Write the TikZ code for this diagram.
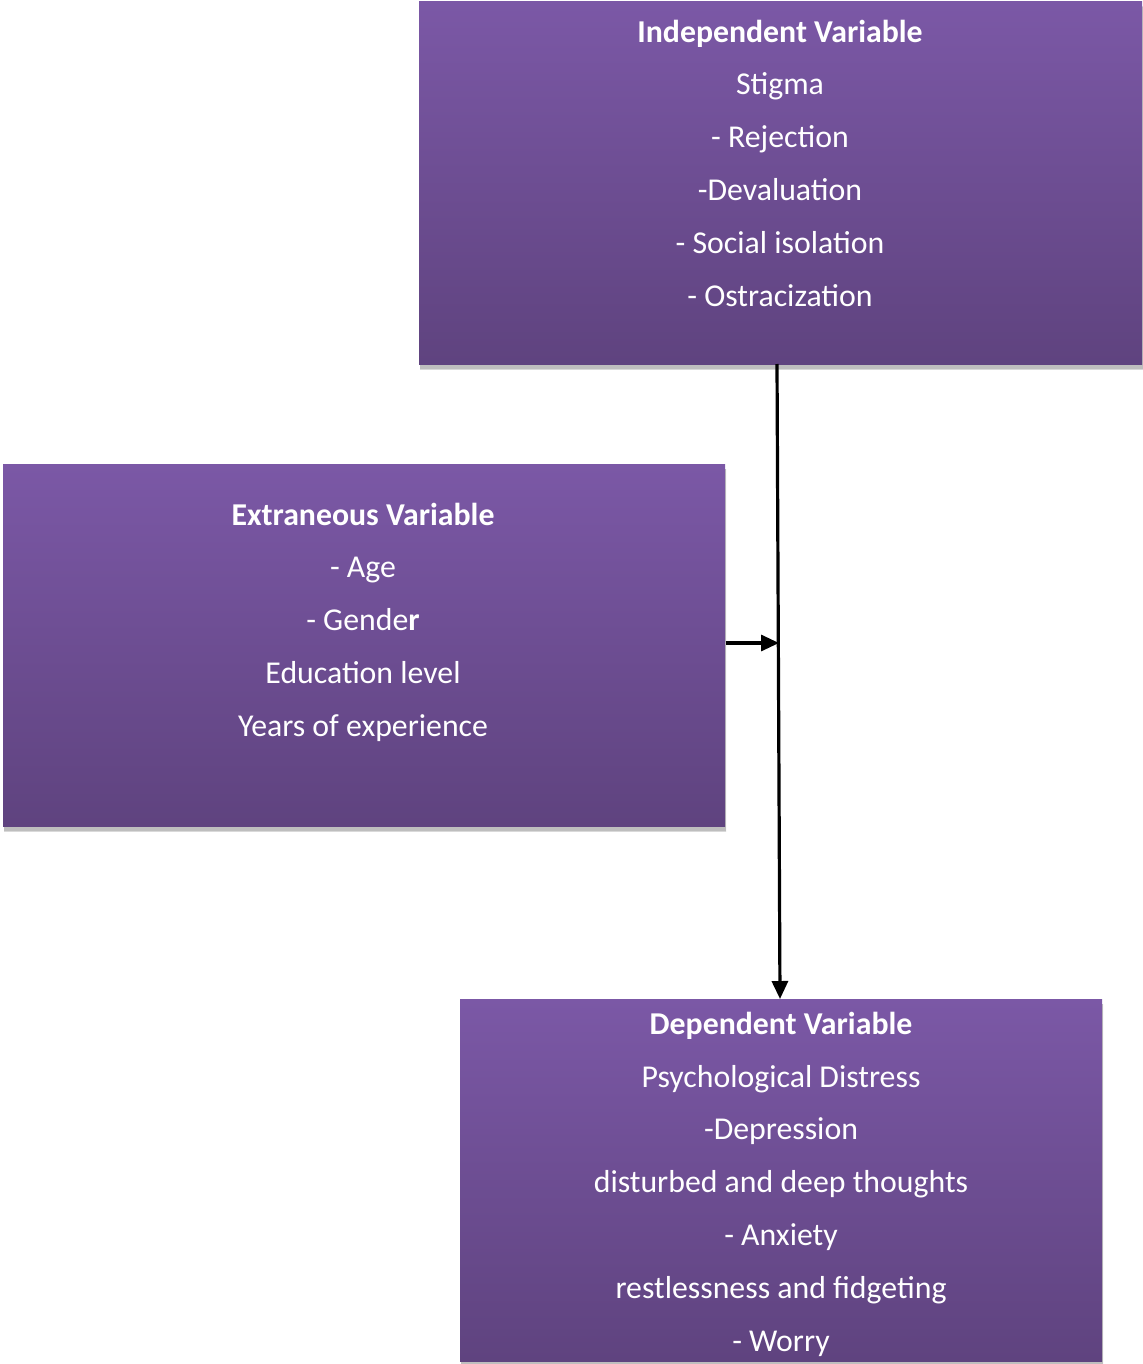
\documentclass[tikz,border=0pt]{standalone}
\usepackage{fontspec}
\setmainfont{Carlito}
\usepackage{xcolor}
\usetikzlibrary{arrows.meta,shadows,positioning,calc}

\definecolor{boxtop}{HTML}{7B58A6}
\definecolor{boxbot}{HTML}{5F437F}

\begin{document}
\begin{tikzpicture}[x=0.5pt, y=-0.5pt, semithick, align=center]

    \tikzstyle{varbox}=[inner sep=0pt, top color=boxtop, bottom color=boxbot, draw=none, minimum height=181pt,
                        drop shadow={shadow xshift=0.5pt, shadow yshift=-2.5pt, opacity=0.3, top color=gray, bottom color=gray}]
    \tikzstyle{vartext}=[text=white, font=\fontsize{15.9}{26.4}\selectfont]
    \tikzstyle{link}=[draw=black, line width=1.6pt, -{Triangle[length=9pt,width=8pt]}]

    \useasboundingbox (0,0) rectangle (1142,1364);

    % the three boxes
    \node[varbox, minimum width=361.5pt] (indep) at (780.5,183) {};
    \node[varbox, minimum width=361pt]   (extra) at (364,645)   {};
    \node[varbox, minimum width=321pt]   (dep)   at (781,1180)  {};

    \node[vartext] (indeptxt) at (780,163) {\textbf{Independent Variable}\\ Stigma\\ - Rejection\\ -Devaluation\\ - Social isolation\\ - Ostracization};
    \node[vartext] (extratxt) at (363,622) {\textbf{Extraneous Variable}\\ - Age\\ - Gende\textbf{r}\\ Education level\\ Years of experience};
    \node[vartext] (deptxt) at (781,1184) {\textbf{Dependent Variable}\\ Psychological Distress\\ -Depression\\ disturbed and deep thoughts\\ - Anxiety\\ restlessness and fidgeting\\ - Worry};

    \coordinate (top)  at (777,364);
    \coordinate (join) at (779,643);
    \coordinate (bot)  at (780,999);

    \path (top)                 edge [link] (bot)
          (extra.east |- join)  edge [link] (join);
\end{tikzpicture}
\end{document}
